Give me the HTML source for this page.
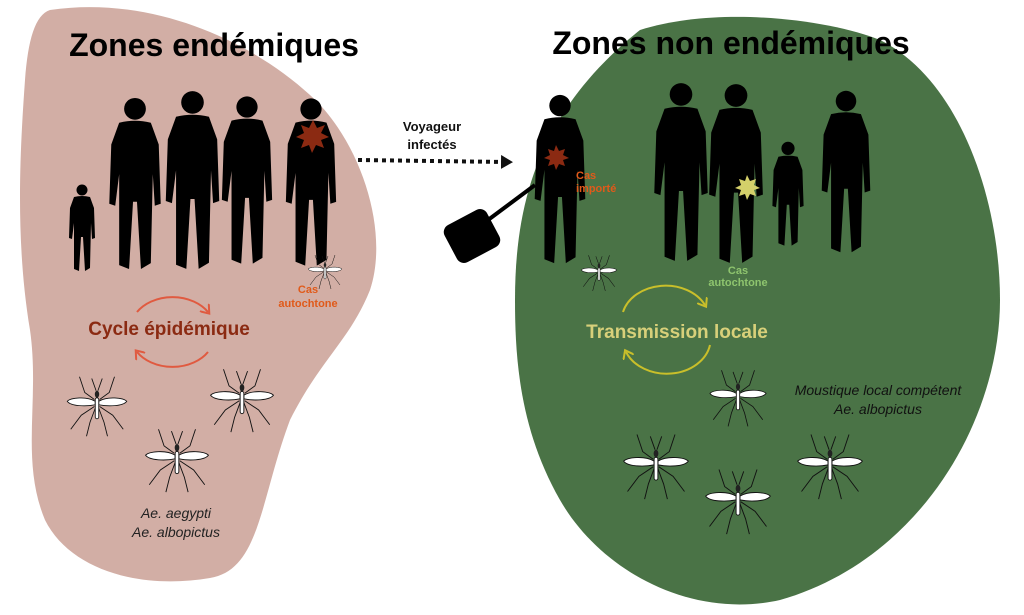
<!DOCTYPE html>
<html><head><meta charset="utf-8"><style>
html,body{margin:0;padding:0;background:#fff;width:1024px;height:615px;overflow:hidden}
svg{display:block}
text{font-family:"Liberation Sans",sans-serif}
</style></head><body>
<svg width="1024" height="615" viewBox="0 0 1024 615" xmlns="http://www.w3.org/2000/svg">
<defs>
<symbol id="m" viewBox="-40 -40 80 80">
<g stroke="#111" stroke-width="1" fill="none">
<path d="M-3,-4 L-14,-12 L-20,-30 M3,-4 L14,-12 L20,-30 M-3,4 L-18,14 L-30,30 M3,4 L18,14 L30,30 M-2,6 L-8,22 L-12,38 M2,6 L8,22 L12,38 M-1,-14 L-6,-28 M1,-14 L6,-28"/>
</g>
<path d="M-2,-2 C-12,-8 -30,-6 -34,-2 C-30,4 -12,4 -2,2Z M2,-2 C12,-8 30,-6 34,-2 C30,4 12,4 2,2Z" fill="#fff" stroke="#111" stroke-width="1"/>
<ellipse cx="0" cy="-10" rx="2.5" ry="4" fill="#222"/>
<rect x="-2" y="-6" width="4" height="24" rx="2" fill="#fff" stroke="#111" stroke-width="1"/>
</symbol>
<symbol id="p" viewBox="0 0 60 180">
<circle cx="30" cy="14" r="11" fill="#000"/>
<path d="M14,28 Q30,24 46,28 L54,50 L56,110 L50,112 L48,80 L46,170 L36,176 L32,108 L28,108 L24,176 L14,172 L14,80 L10,112 L4,110 L6,50Z" fill="#000"/>
</symbol>
<marker id="ar" markerUnits="userSpaceOnUse" markerWidth="14" markerHeight="14" refX="4" refY="7" orient="auto"><path d="M0,0 L12,7 L0,14Z" fill="#111"/></marker>
<marker id="ao" markerUnits="userSpaceOnUse" markerWidth="12" markerHeight="12" refX="6" refY="6" orient="auto"><path d="M0,0 L8,6 L0,12" fill="none" stroke="#e05a40" stroke-width="2"/></marker>
<marker id="ay" markerUnits="userSpaceOnUse" markerWidth="12" markerHeight="12" refX="6" refY="6" orient="auto"><path d="M0,0 L8,6 L0,12" fill="none" stroke="#c9bf2a" stroke-width="2"/></marker>
</defs>
<path d="M50,10 C150,-5 250,40 310,95 C360,140 390,230 370,290 C350,340 320,360 290,420 C260,500 260,570 210,578 C140,590 70,570 45,520 C20,460 40,400 30,330 C15,240 20,150 25,80 C28,40 35,15 50,10Z" fill="#d2aea5"/>
<path d="M640,30 C720,5 830,20 880,40 C960,80 1000,200 1000,300 C1000,420 920,560 780,600 C690,620 600,570 560,500 C520,430 515,360 515,300 C515,200 540,110 640,30Z" fill="#4a7346"/>
<text x="214" y="56" font-size="32" font-weight="bold" text-anchor="middle" fill="#000">Zones endémiques</text>
<text x="731" y="54" font-size="32" font-weight="bold" text-anchor="middle" fill="#000">Zones non endémiques</text>
<use href="#p" x="66" y="183" width="32" height="90"/>
<use href="#p" x="95" y="95" width="80" height="178"/>
<use href="#p" x="160" y="88" width="65" height="185"/>
<use href="#p" x="218" y="88" width="58" height="185"/>
<use href="#p" x="282" y="95" width="58" height="175"/>
<path d="M313,120 l4,8 8,-3 -4,8 8,4 -8,3 3,8 -8,-3 -4,8 -3,-8 -8,3 3,-8 -8,-3 8,-4 -3,-8 8,3Z" fill="#8b2a12"/>
<use href="#m" x="305" y="250" width="40" height="40"/>
<text x="308" y="293" font-size="11" font-weight="bold" text-anchor="middle" fill="#e05a1a">Cas</text>
<text x="308" y="307" font-size="11" font-weight="bold" text-anchor="middle" fill="#e05a1a">autochtone</text>
<path d="M137,312 A42,32 0 0 1 208,312" fill="none" stroke="#e05a40" stroke-width="2" marker-end="url(#ao)"/>
<path d="M208,352 A42,32 0 0 1 137,352" fill="none" stroke="#e05a40" stroke-width="2" marker-end="url(#ao)"/>
<text x="169" y="335" font-size="19" font-weight="bold" text-anchor="middle" fill="#8b2a12">Cycle épidémique</text>
<use href="#m" x="62" y="368" width="70" height="70"/>
<use href="#m" x="140" y="420" width="74" height="74"/>
<use href="#m" x="205" y="360" width="74" height="74"/>
<text x="176" y="518" font-size="14" font-style="italic" text-anchor="middle" fill="#222">Ae. aegypti</text>
<text x="176" y="537" font-size="14" font-style="italic" text-anchor="middle" fill="#222">Ae. albopictus</text>
<text x="432" y="131" font-size="13" font-weight="bold" text-anchor="middle" fill="#111">Voyageur</text>
<text x="432" y="149" font-size="13" font-weight="bold" text-anchor="middle" fill="#111">infectés</text>
<line x1="358" y1="160" x2="505" y2="162" stroke="#111" stroke-width="4" stroke-dasharray="4,4" marker-end="url(#ar)"/>
<rect x="448" y="215" width="48" height="42" rx="8" fill="#000" transform="rotate(-28 472 236)"/>
<line x1="488" y1="220" x2="535" y2="185" stroke="#000" stroke-width="4"/>
<use href="#p" x="515" y="92" width="90" height="175"/>
<path d="M556,145 l3,6 6,-2 -2,6 6,3 -6,2 2,6 -6,-2 -3,6 -2,-6 -6,2 2,-6 -6,-2 6,-3 -2,-6 6,2Z" fill="#8b2a12"/>
<text x="576" y="179" font-size="11" font-weight="bold" fill="#e05a1a">Cas</text>
<text x="576" y="192" font-size="11" font-weight="bold" fill="#e05a1a">importé</text>
<use href="#p" x="650" y="80" width="62" height="185"/>
<use href="#p" x="705" y="80" width="62" height="188"/>
<path d="M747,175 l3,6 6,-2 -2,6 6,3 -6,2 2,6 -6,-2 -3,6 -2,-6 -6,2 2,-6 -6,-2 6,-3 -2,-6 6,2Z" fill="#d4d06a"/>
<use href="#p" x="770" y="128" width="36" height="132"/>
<use href="#p" x="818" y="78" width="56" height="188"/>
<use href="#m" x="578" y="250" width="42" height="42"/>
<text x="738" y="274" font-size="11" font-weight="bold" text-anchor="middle" fill="#8ec46e">Cas</text>
<text x="738" y="286" font-size="11" font-weight="bold" text-anchor="middle" fill="#8ec46e">autochtone</text>
<path d="M623,312 A44,35 0 0 1 705,305" fill="none" stroke="#c9bf2a" stroke-width="2" marker-end="url(#ay)"/>
<path d="M710,345 A44,35 0 0 1 626,352" fill="none" stroke="#c9bf2a" stroke-width="2" marker-end="url(#ay)"/>
<text x="677" y="338" font-size="19" font-weight="bold" text-anchor="middle" fill="#d8d07a">Transmission locale</text>
<use href="#m" x="705" y="362" width="66" height="66"/>
<use href="#m" x="618" y="425" width="76" height="76"/>
<use href="#m" x="700" y="460" width="76" height="76"/>
<use href="#m" x="792" y="425" width="76" height="76"/>
<text x="878" y="395" font-size="14" font-style="italic" text-anchor="middle" fill="#111">Moustique local compétent</text>
<text x="878" y="414" font-size="14" font-style="italic" text-anchor="middle" fill="#111">Ae. albopictus</text>
</svg>
</body></html>
